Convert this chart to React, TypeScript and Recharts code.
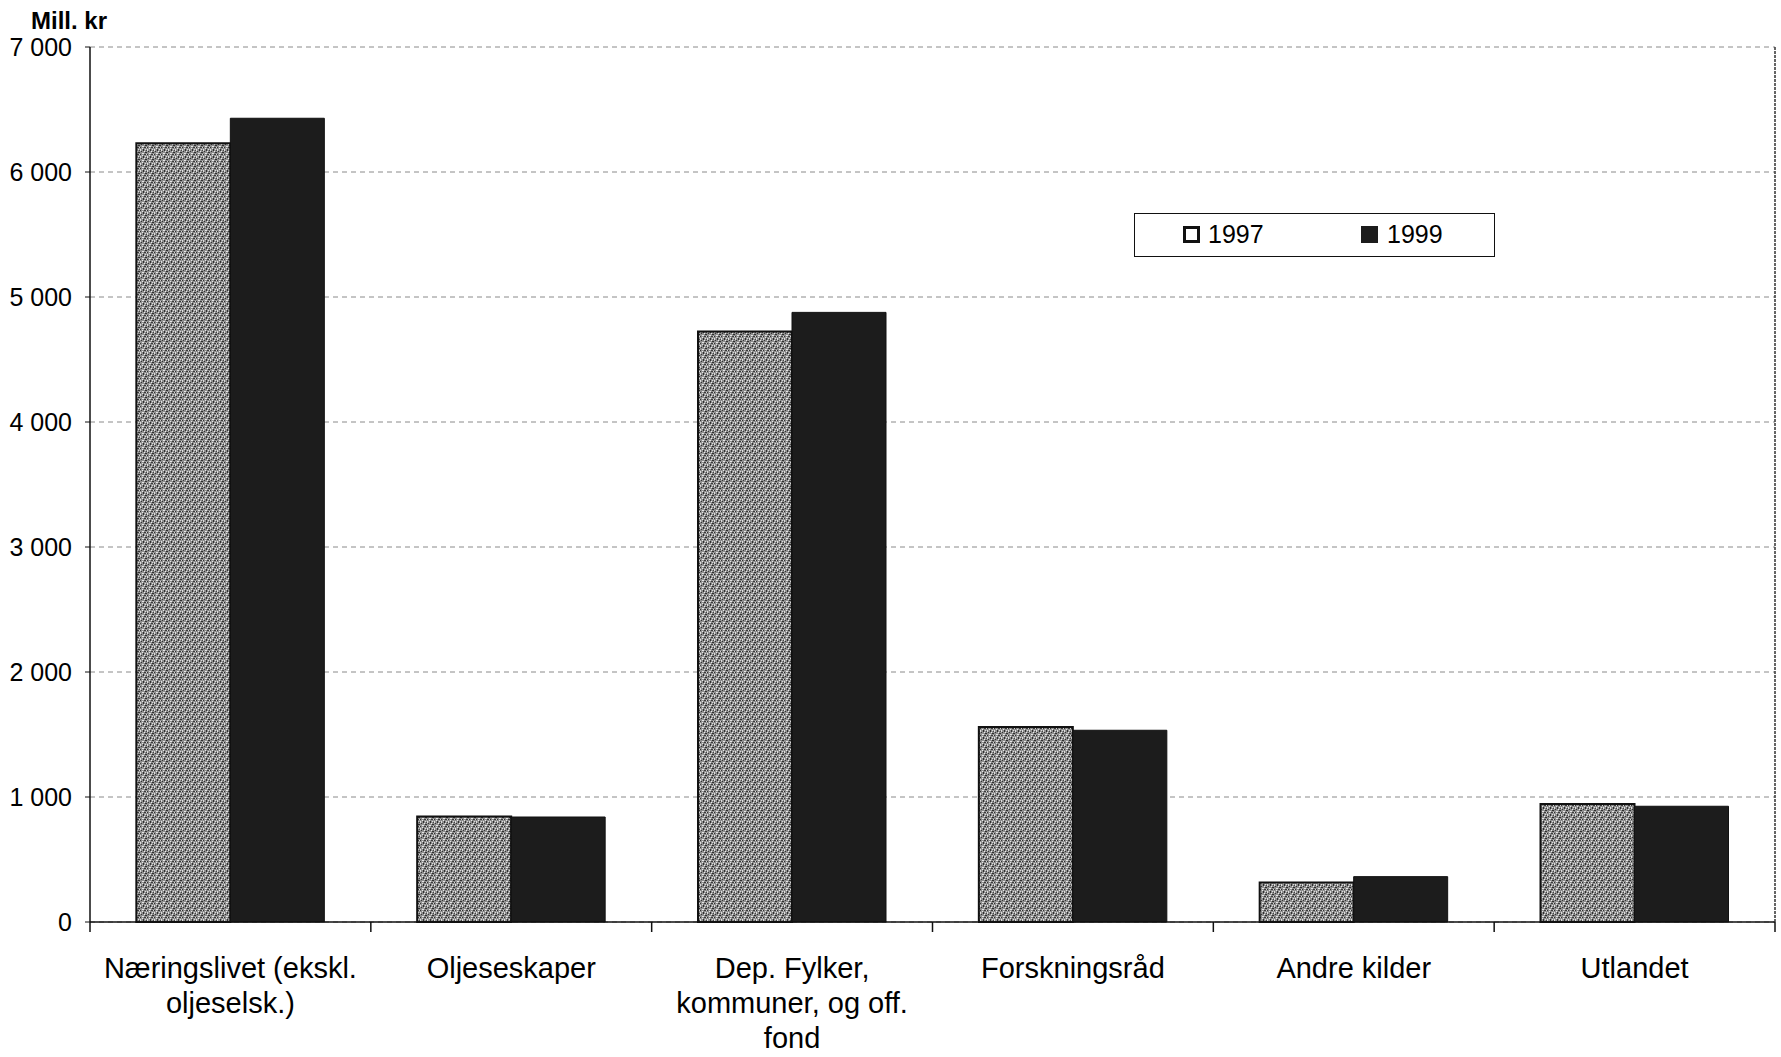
import {
  BarChart,
  Bar,
  XAxis,
  YAxis,
  CartesianGrid,
  Legend,
} from "recharts";

const categories = [
  "Næringslivet (ekskl. oljeselsk.)",
  "Oljeseskaper",
  "Dep. Fylker, kommuner, og off. fond",
  "Forskningsråd",
  "Andre kilder",
  "Utlandet",
];

// how each category label breaks into lines under the axis
const tickLines = [
  ["Næringslivet (ekskl.", "oljeselsk.)"],
  ["Oljeseskaper"],
  ["Dep. Fylker,", "kommuner, og off.", "fond"],
  ["Forskningsråd"],
  ["Andre kilder"],
  ["Utlandet"],
];

const values1997 = [6230, 845, 4725, 1560, 317, 944];
const values1999 = [6430, 840, 4877, 1534, 363, 926];

const yTicks = [0, 1000, 2000, 3000, 4000, 5000, 6000, 7000];

const data = categories.map((name, i) => ({
  name,
  v1997: values1997[i],
  v1999: values1999[i],
}));

const FONT = "'Liberation Sans', Arial, sans-serif";

const fmt = (v: number) => String(v).replace(/\B(?=(\d{3})+(?!\d))/g, " ");

function CategoryTick(props: any) {
  const { x, y, payload, width } = props;
  const lines = tickLines[payload.index] ?? [payload.value];
  // tick marks sit on the category boundaries, not the centres
  const half = width / categories.length / 2;
  const last = payload.index === categories.length - 1;
  return (
    <g>
      <line x1={x - half} x2={x - half} y1={y} y2={y + 10} stroke="#111" strokeWidth={1.5} />
      {last && <line x1={x + half} x2={x + half} y1={y} y2={y + 10} stroke="#111" strokeWidth={1.5} />}
      <text x={x} y={y} textAnchor="middle" fontSize={29} fill="#000" fontFamily={FONT}>
        {lines.map((line, i) => (
          <tspan key={i} x={x} dy={i === 0 ? 56 : 35}>
            {line}
          </tspan>
        ))}
      </text>
    </g>
  );
}

function LegendBox() {
  return (
    <div
      style={{
        position: "relative",
        width: 361,
        height: 44,
        boxSizing: "border-box",
        border: "1.5px solid #111",
        background: "#fff",
        fontFamily: FONT,
        fontSize: 25,
        color: "#000",
      }}
    >
      <div
        style={{
          position: "absolute",
          left: 48,
          top: 12,
          width: 17,
          height: 17,
          boxSizing: "border-box",
          border: "3px solid #111",
          background: "#fff",
        }}
      />
      <div style={{ position: "absolute", left: 73, top: 6, lineHeight: "28px" }}>1997</div>
      <div
        style={{
          position: "absolute",
          left: 226,
          top: 12,
          width: 17,
          height: 17,
          background: "#1c1c1c",
        }}
      />
      <div style={{ position: "absolute", left: 252, top: 6, lineHeight: "28px" }}>1999</div>
    </div>
  );
}

export default function App() {
  return (
    <div
      style={{
        position: "absolute",
        left: 0,
        top: 0,
        width: 1781,
        height: 1057,
        background: "#fff",
        fontFamily: FONT,
      }}
    >
      <div
        style={{
          position: "absolute",
          left: 31,
          top: 9,
          fontSize: 24,
          fontWeight: "bold",
          lineHeight: "24px",
          color: "#000",
          zIndex: 2,
        }}
      >
        Mill. kr
      </div>
      <BarChart
        width={1781}
        height={1057}
        data={data}
        margin={{ top: 47, right: 5, left: 0, bottom: 0 }}
        barCategoryGap="16.5%"
        barGap={0}
      >
        <defs>
          <pattern id="speckle" width="7" height="7" patternUnits="userSpaceOnUse">
            <rect width="7" height="7" fill="#8e8e8e" />
            <rect x="0" y="0" width="1" height="1" fill="#2e2e2e" />
            <rect x="4" y="0" width="2" height="1" fill="#3a3a3a" />
            <rect x="3" y="2" width="1" height="2" fill="#2e2e2e" />
            <rect x="1" y="4" width="1" height="1" fill="#333" />
            <rect x="5" y="5" width="2" height="1" fill="#2e2e2e" />
            <rect x="6" y="3" width="1" height="1" fill="#444" />
            <rect x="2" y="1" width="1" height="1" fill="#e6e6e6" />
            <rect x="0" y="2" width="1" height="2" fill="#e0e0e0" />
            <rect x="4" y="4" width="1" height="1" fill="#ececec" />
            <rect x="5" y="2" width="1" height="1" fill="#dcdcdc" />
            <rect x="2" y="6" width="2" height="1" fill="#e6e6e6" />
            <rect x="6" y="0" width="1" height="1" fill="#d8d8d8" />
          </pattern>
        </defs>
        <CartesianGrid vertical={false} stroke="#8a8a8a" strokeDasharray="5 4" />
        <XAxis
          dataKey="name"
          height={135}
          axisLine={{ stroke: "#111", strokeWidth: 1.5 }}
          tickLine={false}
          tickSize={0}
          tickMargin={0}
          interval={0}
          tick={<CategoryTick />}
        />
        <YAxis
          domain={[0, 7000]}
          ticks={yTicks}
          width={90}
          tickFormatter={fmt}
          tickSize={5}
          tickMargin={13}
          axisLine={{ stroke: "#111", strokeWidth: 1.5 }}
          tickLine={{ stroke: "#111" }}
          tick={{ fill: "#000", fontSize: 25, fontFamily: FONT }}
        />
        <YAxis
          yAxisId="frame"
          orientation="right"
          domain={[0, 7000]}
          width={1}
          tick={false}
          tickLine={false}
          axisLine={{ stroke: "#333", strokeWidth: 1.5, strokeDasharray: "3 1" }}
        />
        <Legend
          verticalAlign="middle"
          layout="horizontal"
          wrapperStyle={{ position: "absolute", left: 1134, top: 213, width: 361, height: 44 }}
          content={() => <LegendBox />}
        />
        <Bar
          dataKey="v1997"
          name="1997"
          fill="url(#speckle)"
          stroke="#111"
          strokeWidth={2}
          isAnimationActive={false}
        />
        <Bar
          dataKey="v1999"
          name="1999"
          fill="#1c1c1c"
          stroke="#111"
          strokeWidth={1}
          isAnimationActive={false}
        />
      </BarChart>
    </div>
  );
}
